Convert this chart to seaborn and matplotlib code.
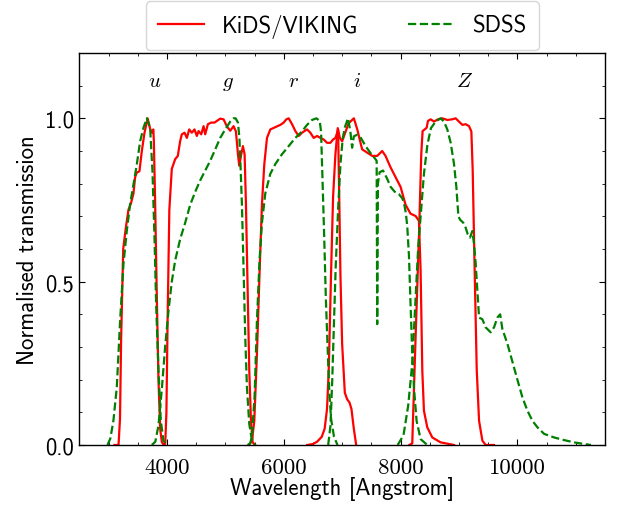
import numpy as np
import pandas as pd
import matplotlib
matplotlib.use("Agg")
import matplotlib.pyplot as plt
import seaborn as sns
from matplotlib.ticker import MultipleLocator, FixedLocator
from matplotlib.lines import Line2D

# ---------------- data ----------------
kids_u_wl = [3100, 3170, 3195, 3214, 3250, 3295, 3340, 3380, 3426, 3454, 3483, 3528, 3569, 3614, 3668,
             3711, 3740, 3766, 3775, 3797, 3826, 3854, 3883, 3912, 3960]
kids_u_tr = [0.0, 0.0, 0.08, 0.32, 0.6, 0.665, 0.72, 0.738, 0.77, 0.82, 0.834, 0.838, 0.9, 0.955, 1.0,
             0.968, 0.956, 0.966, 0.93, 0.74, 0.45, 0.2, 0.05, 0.008, 0.0]

sdss_u_wl = [2980, 3030, 3082, 3140, 3197, 3254, 3311, 3368, 3426, 3483, 3540, 3597, 3654, 3711, 3751,
             3786, 3814, 3854, 3894, 3940, 3997]
sdss_u_tr = [0.0, 0.02, 0.074, 0.176, 0.38, 0.553, 0.655, 0.737, 0.798, 0.859, 0.93, 0.971, 1.0, 0.971,
             0.839, 0.635, 0.43, 0.227, 0.074, 0.013, 0.0]

kids_g_wl = [3940, 3970, 3990, 4010, 4040, 4082, 4140, 4185, 4225, 4254, 4300, 4340, 4380, 4425, 4471,
             4511, 4540, 4586, 4626, 4654, 4700, 4757, 4814, 4854, 4911, 4969, 5026, 5083, 5140, 5180,
             5215, 5237, 5272, 5300, 5329, 5352, 5386, 5409, 5438, 5466, 5512]
kids_g_tr = [0.0, 0.005, 0.1, 0.38, 0.72, 0.845, 0.875, 0.885, 0.93, 0.951, 0.956, 0.94, 0.966, 0.956,
             0.966, 0.946, 0.961, 0.951, 0.976, 0.951, 0.982, 0.987, 0.987, 0.992, 0.999, 0.997, 0.975,
             0.962, 0.976, 0.96, 0.89, 0.855, 0.89, 0.915, 0.89, 0.737, 0.43, 0.227, 0.074, 0.008, 0.0]

sdss_g_wl = [3740, 3800, 3854, 3911, 3968, 4025, 4082, 4140, 4225, 4311, 4397, 4483, 4568, 4654, 4740,
             4826, 4911, 4997, 5083, 5140, 5175, 5215, 5240, 5260, 5283, 5312, 5340, 5369, 5409, 5455, 5512]
sdss_g_tr = [0.0, 0.01, 0.06, 0.17, 0.3, 0.41, 0.5, 0.565, 0.63, 0.68, 0.735, 0.775, 0.81, 0.84, 0.87,
             0.905, 0.94, 0.966, 0.99, 1.0, 1.0, 0.987, 0.94, 0.85, 0.737, 0.533, 0.33, 0.176, 0.064,
             0.013, 0.0]

kids_r_wl = [5400, 5455, 5495, 5540, 5586, 5626, 5666, 5712, 5769, 5855, 5941, 5998, 6044, 6084, 6141,
             6198, 6255, 6312, 6398, 6455, 6512, 6570, 6627, 6684, 6741, 6798, 6844, 6885, 6930, 6953,
             6970, 6999, 7045, 7085, 7125, 7159, 7199, 7240]
kids_r_tr = [0.0, 0.013, 0.074, 0.278, 0.533, 0.737, 0.859, 0.94, 0.966, 0.973, 0.98, 0.987, 0.997, 1.0,
             0.982, 0.961, 0.946, 0.956, 0.966, 0.956, 0.94, 0.946, 0.94, 0.935, 0.925, 0.925, 0.935,
             0.94, 0.965, 0.72, 0.52, 0.31, 0.16, 0.14, 0.13, 0.11, 0.05, 0.0]

sdss_r_wl = [5380, 5426, 5455, 5500, 5540, 5586, 5626, 5683, 5769, 5855, 5969, 6084, 6198, 6312, 6398,
             6484, 6558, 6615, 6638, 6655, 6690, 6720, 6750, 6780, 6810, 6860, 6920]
sdss_r_tr = [0.0, 0.005, 0.03, 0.15, 0.38, 0.57, 0.68, 0.77, 0.83, 0.86, 0.89, 0.915, 0.94, 0.96, 0.98,
             0.995, 1.0, 0.992, 0.96, 0.86, 0.65, 0.45, 0.3, 0.16, 0.08, 0.025, 0.0]

kids_i_wl = [6400, 6500, 6570, 6650, 6700, 6740, 6770, 6810, 6844, 6884, 6924, 6960, 7000, 7050, 7110,
             7200, 7260, 7300, 7342, 7428, 7514, 7600, 7685, 7742, 7828, 7914, 8000, 8086, 8171, 8257,
             8300, 8314, 8343, 8372, 8400, 8457, 8543, 8686, 8915]
kids_i_tr = [0.0, 0.003, 0.01, 0.025, 0.05, 0.11, 0.23, 0.53, 0.76, 0.89, 0.97, 0.94, 0.93, 0.955, 0.985,
             1.0, 0.965, 0.935, 0.905, 0.895, 0.885, 0.885, 0.9, 0.885, 0.85, 0.82, 0.79, 0.735, 0.708,
             0.701, 0.69, 0.686, 0.533, 0.227, 0.105, 0.054, 0.023, 0.008, 0.0]

sdss_i_wl = [6760, 6800, 6830, 6860, 6890, 6930, 6970, 7010, 7050, 7100, 7140, 7170, 7200, 7260, 7320,
             7400, 7480, 7570, 7590, 7600, 7612, 7640, 7700, 7770, 7830, 7900, 7970, 8030, 8060, 8090,
             8114, 8143, 8171, 8200, 8229, 8274, 8343, 8457]
sdss_i_tr = [0.0, 0.06, 0.2, 0.38, 0.55, 0.72, 0.86, 0.94, 0.975, 1.0, 0.96, 0.91, 0.945, 0.95, 0.94,
             0.915, 0.895, 0.875, 0.87, 0.37, 0.8, 0.835, 0.84, 0.815, 0.79, 0.775, 0.768, 0.755, 0.74,
             0.71, 0.67, 0.58, 0.43, 0.278, 0.176, 0.074, 0.018, 0.0]

kids_z_wl = [8150, 8200, 8257, 8314, 8354, 8377, 8412, 8446, 8469, 8515, 8572, 8640, 8715, 8800, 8886,
             8943, 9000, 9058, 9115, 9172, 9212, 9235, 9269, 9304, 9344, 9401, 9458, 9600]
kids_z_tr = [0.0, 0.005, 0.33, 0.635, 0.89, 0.961, 0.966, 0.971, 0.992, 0.997, 0.99, 0.997, 1.0, 0.995,
             0.997, 1.0, 0.99, 0.98, 0.982, 0.976, 0.96, 0.84, 0.53, 0.23, 0.074, 0.013, 0.0, 0.0]

sdss_z_wl = [7950, 8050, 8130, 8200, 8257, 8300, 8343, 8400, 8460, 8520, 8600, 8685, 8743, 8800, 8858,
             8915, 8955, 8990, 9018, 9075, 9115, 9150, 9189, 9229, 9258, 9287, 9315, 9344, 9400, 9457,
             9543, 9600, 9657, 9705, 9743, 9829, 9915, 10000, 10086, 10172, 10258, 10344, 10458, 10630,
             10800, 10973, 11144, 11260]
sdss_z_tr = [0.0, 0.03, 0.12, 0.25, 0.45, 0.6, 0.7, 0.83, 0.92, 0.97, 0.99, 1.0, 0.99, 0.966, 0.925,
             0.86, 0.79, 0.7, 0.69, 0.68, 0.665, 0.645, 0.635, 0.655, 0.615, 0.553, 0.472, 0.39, 0.385,
             0.36, 0.345, 0.36, 0.39, 0.40, 0.355, 0.31, 0.255, 0.2, 0.146, 0.105, 0.074, 0.054, 0.034,
             0.023, 0.015, 0.008, 0.003, 0.0]

band_names = ["u", "g", "r", "i", "Z"]
band_label_x = [3785, 5050, 6158, 7256, 9096]
surveys = ["KiDS/VIKING", "SDSS"]
xticks = [4000, 6000, 8000, 10000]
xtick_labels = ["4000", "6000", "8000", "10000"]
yticks = [0.0, 0.5, 1.0]
ytick_labels = ["0.0", "0.5", "1.0"]

# ---------------- build long table ----------------
curves = [
    ("KiDS/VIKING", "u", kids_u_wl, kids_u_tr), ("SDSS", "u", sdss_u_wl, sdss_u_tr),
    ("KiDS/VIKING", "g", kids_g_wl, kids_g_tr), ("SDSS", "g", sdss_g_wl, sdss_g_tr),
    ("KiDS/VIKING", "r", kids_r_wl, kids_r_tr), ("SDSS", "r", sdss_r_wl, sdss_r_tr),
    ("KiDS/VIKING", "i", kids_i_wl, kids_i_tr), ("SDSS", "i", sdss_i_wl, sdss_i_tr),
    ("KiDS/VIKING", "Z", kids_z_wl, kids_z_tr), ("SDSS", "Z", sdss_z_wl, sdss_z_tr),
]
rows = []
for survey, band, wl, tr in curves:
    for w, t in zip(wl, tr):
        rows.append({"survey": survey, "band": band, "wavelength": w, "transmission": t})
df = pd.DataFrame(rows)

# ---------------- style ----------------
plt.rcParams["mathtext.fontset"] = "cm"
plt.rcParams["font.family"] = ["cmss10", "DejaVu Sans"]
plt.rcParams["axes.unicode_minus"] = False
FS = 16.4

fig = plt.figure(figsize=(6.17, 5.06), dpi=100)
ax = fig.add_axes([0.1287, 0.1186, 0.8518, 0.7747])

palette = {"KiDS/VIKING": "#ff0000", "SDSS": "#008000"}
dashes = {"KiDS/VIKING": "", "SDSS": (3.7, 1.6)}

sns.lineplot(data=df, x="wavelength", y="transmission", hue="survey", style="survey",
             units="band", estimator=None, palette=palette, dashes=dashes,
             linewidth=1.6, legend=False, ax=ax)

ax.set_xlim(2500, 11500)
ax.set_ylim(0, 1.2)

ax.xaxis.set_major_locator(FixedLocator(xticks))
ax.set_xticklabels(xtick_labels, fontfamily="cmr10", fontsize=FS)
ax.xaxis.set_minor_locator(MultipleLocator(500))
ax.yaxis.set_major_locator(FixedLocator(yticks))
ax.set_yticklabels(ytick_labels, fontsize=FS)
ax.yaxis.set_minor_locator(MultipleLocator(0.1))

ax.tick_params(which="both", direction="in", top=True, right=True, color="black")
ax.tick_params(which="major", length=4.5, width=0.8)
ax.tick_params(which="minor", length=2.5, width=0.6)
ax.tick_params(axis="x", which="major", pad=9)
ax.tick_params(axis="y", which="major", pad=4)

for sp in ax.spines.values():
    sp.set_color("black")
    sp.set_linewidth(1.0)

ax.set_xlabel("Wavelength [Angstrom]", fontsize=FS, labelpad=-0.5)
ax.set_ylabel("Normalised transmission", fontsize=FS)

for b, bx in zip(band_names, band_label_x):
    ax.text(bx, 1.1, f"${b}$", fontsize=15, ha="center", va="baseline")

handles = [Line2D([], [], color=palette[s], linestyle="-" if s == "KiDS/VIKING" else "--",
                  linewidth=1.6, label=s) for s in surveys]
leg = ax.legend(handles=handles, loc="lower center", bbox_to_anchor=(0.5, 1.0), ncol=2,
                fontsize=FS, frameon=True, fancybox=True, borderaxespad=0.12,
                borderpad=0.55, columnspacing=2.2,
                edgecolor="0.8", framealpha=0.8)

fig.savefig("out.png", dpi=100)
